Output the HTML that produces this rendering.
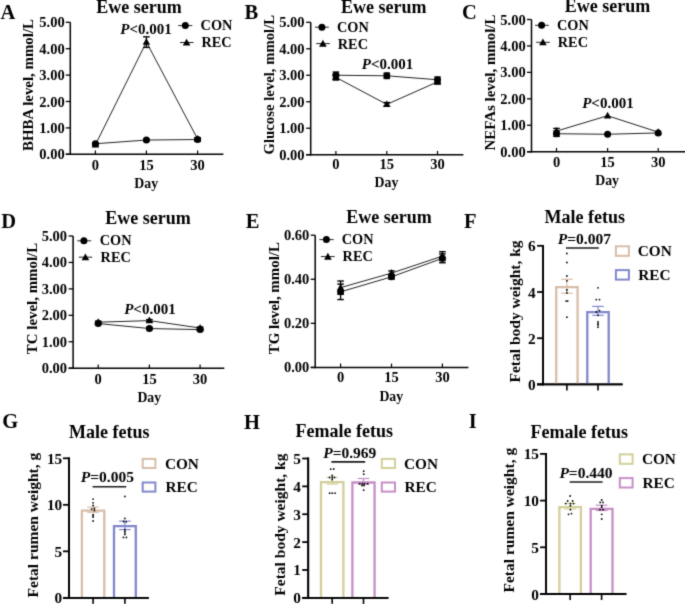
<!DOCTYPE html>
<html><head><meta charset="utf-8"><style>
html,body{margin:0;padding:0;background:#fff;width:685px;height:604px;overflow:hidden}
svg{display:block;font-family:"Liberation Serif", serif;will-change:transform}
</style></head><body>
<svg width="685" height="604" viewBox="0 0 685 604" font-family='"Liberation Serif", serif'>
<defs><filter id="bl" x="0" y="0" width="685" height="604" filterUnits="userSpaceOnUse" color-interpolation-filters="sRGB"><feConvolveMatrix order="3" kernelMatrix="0.02 0.1 0.02 0.1 0.52 0.1 0.02 0.1 0.02" edgeMode="duplicate"/></filter></defs>
<rect width="685" height="604" fill="#fff"/>
<g filter="url(#bl)">
<line x1="70.30" y1="22.30" x2="70.30" y2="155.05" stroke="#000" stroke-width="1.5" />
<line x1="65.80" y1="154.30" x2="223.40" y2="154.30" stroke="#000" stroke-width="1.5" />
<line x1="65.80" y1="154.30" x2="70.30" y2="154.30" stroke="#000" stroke-width="1.3" />
<text x="64.70" y="159.30" font-size="14.5" text-anchor="end" font-weight="bold" font-style="normal" fill="#000" >0.00</text>
<line x1="65.80" y1="127.90" x2="70.30" y2="127.90" stroke="#000" stroke-width="1.3" />
<text x="64.70" y="132.90" font-size="14.5" text-anchor="end" font-weight="bold" font-style="normal" fill="#000" >1.00</text>
<line x1="65.80" y1="101.50" x2="70.30" y2="101.50" stroke="#000" stroke-width="1.3" />
<text x="64.70" y="106.50" font-size="14.5" text-anchor="end" font-weight="bold" font-style="normal" fill="#000" >2.00</text>
<line x1="65.80" y1="75.10" x2="70.30" y2="75.10" stroke="#000" stroke-width="1.3" />
<text x="64.70" y="80.10" font-size="14.5" text-anchor="end" font-weight="bold" font-style="normal" fill="#000" >3.00</text>
<line x1="65.80" y1="48.70" x2="70.30" y2="48.70" stroke="#000" stroke-width="1.3" />
<text x="64.70" y="53.70" font-size="14.5" text-anchor="end" font-weight="bold" font-style="normal" fill="#000" >4.00</text>
<line x1="65.80" y1="22.30" x2="70.30" y2="22.30" stroke="#000" stroke-width="1.3" />
<text x="64.70" y="27.30" font-size="14.5" text-anchor="end" font-weight="bold" font-style="normal" fill="#000" >5.00</text>
<line x1="95.40" y1="150.50" x2="95.40" y2="154.30" stroke="#000" stroke-width="1.2" />
<text x="95.40" y="170.10" font-size="14.5" text-anchor="middle" font-weight="bold" font-style="normal" fill="#000" >0</text>
<line x1="146.40" y1="150.50" x2="146.40" y2="154.30" stroke="#000" stroke-width="1.2" />
<text x="146.40" y="170.10" font-size="14.5" text-anchor="middle" font-weight="bold" font-style="normal" fill="#000" >15</text>
<line x1="197.60" y1="150.50" x2="197.60" y2="154.30" stroke="#000" stroke-width="1.2" />
<text x="197.60" y="170.10" font-size="14.5" text-anchor="middle" font-weight="bold" font-style="normal" fill="#000" >30</text>
<text x="146.20" y="188.30" font-size="13.8" text-anchor="middle" font-weight="bold" font-style="normal" fill="#000" >Day</text>
<text x="0" y="0" font-size="14.9" text-anchor="middle" font-weight="bold" transform="translate(33.30,85.00) rotate(-90)">BHBA level, mmol/L</text>
<text x="139.10" y="12.80" font-size="18" text-anchor="middle" font-weight="bold" font-style="normal" fill="#000" >Ewe serum</text>
<text x="0.60" y="18.80" font-size="20.5" text-anchor="start" font-weight="bold" font-style="normal" fill="#000" >A</text>
<line x1="178.20" y1="25.60" x2="192.30" y2="25.60" stroke="#222" stroke-width="1.0" />
<circle cx="185.30" cy="25.60" r="3.5" fill="#000"/>
<text x="200.60" y="29.90" font-size="14.3" text-anchor="start" font-weight="bold" font-style="normal" fill="#000" >CON</text>
<line x1="180.00" y1="42.50" x2="193.50" y2="42.50" stroke="#222" stroke-width="1.0" />
<polygon points="186.60,38.70 182.80,45.54 190.40,45.54" fill="#000"/>
<text x="201.40" y="47.00" font-size="14.3" text-anchor="start" font-weight="bold" font-style="normal" fill="#000" >REC</text>
<text x="120.30" y="33.80" font-size="15" font-weight="bold"><tspan font-style="italic">P</tspan>&lt;0.001</text>
<polyline points="95.40,143.74 146.40,140.04 197.60,139.52" fill="none" stroke="#222" stroke-width="1"/>
<polyline points="95.40,144.80 146.40,42.10 197.60,138.99" fill="none" stroke="#222" stroke-width="1"/>
<line x1="95.40" y1="142.95" x2="95.40" y2="144.53" stroke="#000" stroke-width="1.3" />
<line x1="92.10" y1="142.95" x2="98.70" y2="142.95" stroke="#000" stroke-width="1.4" />
<line x1="92.10" y1="144.53" x2="98.70" y2="144.53" stroke="#000" stroke-width="1.4" />
<circle cx="95.40" cy="143.74" r="3.5" fill="#000"/>
<line x1="146.40" y1="139.25" x2="146.40" y2="140.84" stroke="#000" stroke-width="1.3" />
<line x1="143.10" y1="139.25" x2="149.70" y2="139.25" stroke="#000" stroke-width="1.4" />
<line x1="143.10" y1="140.84" x2="149.70" y2="140.84" stroke="#000" stroke-width="1.4" />
<circle cx="146.40" cy="140.04" r="3.5" fill="#000"/>
<line x1="197.60" y1="138.46" x2="197.60" y2="140.57" stroke="#000" stroke-width="1.3" />
<line x1="194.30" y1="138.46" x2="200.90" y2="138.46" stroke="#000" stroke-width="1.4" />
<line x1="194.30" y1="140.57" x2="200.90" y2="140.57" stroke="#000" stroke-width="1.4" />
<circle cx="197.60" cy="139.52" r="3.5" fill="#000"/>
<line x1="95.40" y1="143.74" x2="95.40" y2="145.85" stroke="#000" stroke-width="1.3" />
<line x1="92.10" y1="143.74" x2="98.70" y2="143.74" stroke="#000" stroke-width="1.4" />
<line x1="92.10" y1="145.85" x2="98.70" y2="145.85" stroke="#000" stroke-width="1.4" />
<polygon points="95.40,140.80 91.70,147.46 99.10,147.46" fill="#000"/>
<line x1="146.40" y1="36.82" x2="146.40" y2="47.38" stroke="#000" stroke-width="1.3" />
<line x1="143.10" y1="36.82" x2="149.70" y2="36.82" stroke="#000" stroke-width="1.4" />
<line x1="143.10" y1="47.38" x2="149.70" y2="47.38" stroke="#000" stroke-width="1.4" />
<polygon points="146.40,38.10 142.70,44.76 150.10,44.76" fill="#000"/>
<line x1="197.60" y1="137.67" x2="197.60" y2="140.31" stroke="#000" stroke-width="1.3" />
<line x1="194.30" y1="137.67" x2="200.90" y2="137.67" stroke="#000" stroke-width="1.4" />
<line x1="194.30" y1="140.31" x2="200.90" y2="140.31" stroke="#000" stroke-width="1.4" />
<polygon points="197.60,134.99 193.90,141.65 201.30,141.65" fill="#000"/>
<line x1="310.70" y1="22.30" x2="310.70" y2="155.45" stroke="#000" stroke-width="1.5" />
<line x1="306.20" y1="154.70" x2="463.40" y2="154.70" stroke="#000" stroke-width="1.5" />
<line x1="306.20" y1="154.70" x2="310.70" y2="154.70" stroke="#000" stroke-width="1.3" />
<text x="304.60" y="159.70" font-size="14.5" text-anchor="end" font-weight="bold" font-style="normal" fill="#000" >0.00</text>
<line x1="306.20" y1="128.22" x2="310.70" y2="128.22" stroke="#000" stroke-width="1.3" />
<text x="304.60" y="133.22" font-size="14.5" text-anchor="end" font-weight="bold" font-style="normal" fill="#000" >1.00</text>
<line x1="306.20" y1="101.74" x2="310.70" y2="101.74" stroke="#000" stroke-width="1.3" />
<text x="304.60" y="106.74" font-size="14.5" text-anchor="end" font-weight="bold" font-style="normal" fill="#000" >2.00</text>
<line x1="306.20" y1="75.26" x2="310.70" y2="75.26" stroke="#000" stroke-width="1.3" />
<text x="304.60" y="80.26" font-size="14.5" text-anchor="end" font-weight="bold" font-style="normal" fill="#000" >3.00</text>
<line x1="306.20" y1="48.78" x2="310.70" y2="48.78" stroke="#000" stroke-width="1.3" />
<text x="304.60" y="53.78" font-size="14.5" text-anchor="end" font-weight="bold" font-style="normal" fill="#000" >4.00</text>
<line x1="306.20" y1="22.30" x2="310.70" y2="22.30" stroke="#000" stroke-width="1.3" />
<text x="304.60" y="27.30" font-size="14.5" text-anchor="end" font-weight="bold" font-style="normal" fill="#000" >5.00</text>
<line x1="335.90" y1="150.90" x2="335.90" y2="154.70" stroke="#000" stroke-width="1.2" />
<text x="335.90" y="169.10" font-size="14.5" text-anchor="middle" font-weight="bold" font-style="normal" fill="#000" >0</text>
<line x1="386.80" y1="150.90" x2="386.80" y2="154.70" stroke="#000" stroke-width="1.2" />
<text x="386.80" y="169.10" font-size="14.5" text-anchor="middle" font-weight="bold" font-style="normal" fill="#000" >15</text>
<line x1="437.50" y1="150.90" x2="437.50" y2="154.70" stroke="#000" stroke-width="1.2" />
<text x="437.50" y="169.10" font-size="14.5" text-anchor="middle" font-weight="bold" font-style="normal" fill="#000" >30</text>
<text x="386.50" y="187.10" font-size="13.8" text-anchor="middle" font-weight="bold" font-style="normal" fill="#000" >Day</text>
<text x="0" y="0" font-size="14.75" text-anchor="middle" font-weight="bold" transform="translate(273.90,84.70) rotate(-90)">Glucose level, mmol/L</text>
<text x="383.70" y="12.80" font-size="18" text-anchor="middle" font-weight="bold" font-style="normal" fill="#000" >Ewe serum</text>
<text x="244.60" y="18.80" font-size="20.5" text-anchor="start" font-weight="bold" font-style="normal" fill="#000" >B</text>
<line x1="315.00" y1="27.20" x2="328.80" y2="27.20" stroke="#222" stroke-width="1.0" />
<circle cx="321.90" cy="27.20" r="3.5" fill="#000"/>
<text x="337.00" y="31.70" font-size="14.3" text-anchor="start" font-weight="bold" font-style="normal" fill="#000" >CON</text>
<line x1="316.20" y1="43.60" x2="329.80" y2="43.60" stroke="#222" stroke-width="1.0" />
<polygon points="322.90,39.80 319.10,46.64 326.70,46.64" fill="#000"/>
<text x="337.80" y="49.10" font-size="14.3" text-anchor="start" font-weight="bold" font-style="normal" fill="#000" >REC</text>
<text x="361.80" y="68.70" font-size="15" font-weight="bold"><tspan font-style="italic">P</tspan>&lt;0.001</text>
<polyline points="335.90,75.26 386.80,75.79 437.50,79.76" fill="none" stroke="#222" stroke-width="1"/>
<polyline points="335.90,77.38 386.80,104.39 437.50,81.88" fill="none" stroke="#222" stroke-width="1"/>
<line x1="335.90" y1="72.08" x2="335.90" y2="78.44" stroke="#000" stroke-width="1.3" />
<line x1="332.60" y1="72.08" x2="339.20" y2="72.08" stroke="#000" stroke-width="1.4" />
<line x1="332.60" y1="78.44" x2="339.20" y2="78.44" stroke="#000" stroke-width="1.4" />
<circle cx="335.90" cy="75.26" r="3.5" fill="#000"/>
<line x1="386.80" y1="73.14" x2="386.80" y2="78.44" stroke="#000" stroke-width="1.3" />
<line x1="383.50" y1="73.14" x2="390.10" y2="73.14" stroke="#000" stroke-width="1.4" />
<line x1="383.50" y1="78.44" x2="390.10" y2="78.44" stroke="#000" stroke-width="1.4" />
<circle cx="386.80" cy="75.79" r="3.5" fill="#000"/>
<line x1="437.50" y1="77.11" x2="437.50" y2="82.41" stroke="#000" stroke-width="1.3" />
<line x1="434.20" y1="77.11" x2="440.80" y2="77.11" stroke="#000" stroke-width="1.4" />
<line x1="434.20" y1="82.41" x2="440.80" y2="82.41" stroke="#000" stroke-width="1.4" />
<circle cx="437.50" cy="79.76" r="3.5" fill="#000"/>
<line x1="335.90" y1="74.73" x2="335.90" y2="80.03" stroke="#000" stroke-width="1.3" />
<line x1="332.60" y1="74.73" x2="339.20" y2="74.73" stroke="#000" stroke-width="1.4" />
<line x1="332.60" y1="80.03" x2="339.20" y2="80.03" stroke="#000" stroke-width="1.4" />
<polygon points="335.90,73.38 332.20,80.04 339.60,80.04" fill="#000"/>
<line x1="386.80" y1="102.53" x2="386.80" y2="106.24" stroke="#000" stroke-width="1.3" />
<line x1="383.50" y1="102.53" x2="390.10" y2="102.53" stroke="#000" stroke-width="1.4" />
<line x1="383.50" y1="106.24" x2="390.10" y2="106.24" stroke="#000" stroke-width="1.4" />
<polygon points="386.80,100.39 383.10,107.05 390.50,107.05" fill="#000"/>
<line x1="437.50" y1="79.76" x2="437.50" y2="84.00" stroke="#000" stroke-width="1.3" />
<line x1="434.20" y1="79.76" x2="440.80" y2="79.76" stroke="#000" stroke-width="1.4" />
<line x1="434.20" y1="84.00" x2="440.80" y2="84.00" stroke="#000" stroke-width="1.4" />
<polygon points="437.50,77.88 433.80,84.54 441.20,84.54" fill="#000"/>
<line x1="531.50" y1="19.50" x2="531.50" y2="152.45" stroke="#000" stroke-width="1.5" />
<line x1="527.00" y1="151.70" x2="690.00" y2="151.70" stroke="#000" stroke-width="1.5" />
<line x1="527.00" y1="151.70" x2="531.50" y2="151.70" stroke="#000" stroke-width="1.3" />
<text x="525.70" y="156.70" font-size="14.5" text-anchor="end" font-weight="bold" font-style="normal" fill="#000" >0.00</text>
<line x1="527.00" y1="125.26" x2="531.50" y2="125.26" stroke="#000" stroke-width="1.3" />
<text x="525.70" y="130.26" font-size="14.5" text-anchor="end" font-weight="bold" font-style="normal" fill="#000" >1.00</text>
<line x1="527.00" y1="98.82" x2="531.50" y2="98.82" stroke="#000" stroke-width="1.3" />
<text x="525.70" y="103.82" font-size="14.5" text-anchor="end" font-weight="bold" font-style="normal" fill="#000" >2.00</text>
<line x1="527.00" y1="72.38" x2="531.50" y2="72.38" stroke="#000" stroke-width="1.3" />
<text x="525.70" y="77.38" font-size="14.5" text-anchor="end" font-weight="bold" font-style="normal" fill="#000" >3.00</text>
<line x1="527.00" y1="45.94" x2="531.50" y2="45.94" stroke="#000" stroke-width="1.3" />
<text x="525.70" y="50.94" font-size="14.5" text-anchor="end" font-weight="bold" font-style="normal" fill="#000" >4.00</text>
<line x1="527.00" y1="19.50" x2="531.50" y2="19.50" stroke="#000" stroke-width="1.3" />
<text x="525.70" y="24.50" font-size="14.5" text-anchor="end" font-weight="bold" font-style="normal" fill="#000" >5.00</text>
<line x1="556.50" y1="147.90" x2="556.50" y2="151.70" stroke="#000" stroke-width="1.2" />
<text x="556.50" y="166.80" font-size="14.5" text-anchor="middle" font-weight="bold" font-style="normal" fill="#000" >0</text>
<line x1="607.60" y1="147.90" x2="607.60" y2="151.70" stroke="#000" stroke-width="1.2" />
<text x="607.60" y="166.80" font-size="14.5" text-anchor="middle" font-weight="bold" font-style="normal" fill="#000" >15</text>
<line x1="658.20" y1="147.90" x2="658.20" y2="151.70" stroke="#000" stroke-width="1.2" />
<text x="658.20" y="166.80" font-size="14.5" text-anchor="middle" font-weight="bold" font-style="normal" fill="#000" >30</text>
<text x="607.10" y="185.20" font-size="13.8" text-anchor="middle" font-weight="bold" font-style="normal" fill="#000" >Day</text>
<text x="0" y="0" font-size="14.9" text-anchor="middle" font-weight="bold" transform="translate(494.70,82.50) rotate(-90)">NEFAs level, mmol/L</text>
<text x="607.50" y="11.80" font-size="18" text-anchor="middle" font-weight="bold" font-style="normal" fill="#000" >Ewe serum</text>
<text x="462.00" y="18.60" font-size="20.5" text-anchor="start" font-weight="bold" font-style="normal" fill="#000" >C</text>
<line x1="535.00" y1="25.30" x2="548.80" y2="25.30" stroke="#222" stroke-width="1.0" />
<circle cx="541.60" cy="25.30" r="3.5" fill="#000"/>
<text x="557.00" y="30.30" font-size="14.3" text-anchor="start" font-weight="bold" font-style="normal" fill="#000" >CON</text>
<line x1="536.20" y1="42.30" x2="549.80" y2="42.30" stroke="#222" stroke-width="1.0" />
<polygon points="542.90,38.50 539.10,45.34 546.70,45.34" fill="#000"/>
<text x="557.80" y="47.00" font-size="14.3" text-anchor="start" font-weight="bold" font-style="normal" fill="#000" >REC</text>
<text x="582.20" y="108.10" font-size="15" font-weight="bold"><tspan font-style="italic">P</tspan>&lt;0.001</text>
<polyline points="556.50,133.72 607.60,134.25 658.20,132.93" fill="none" stroke="#222" stroke-width="1"/>
<polyline points="556.50,131.08 607.60,115.74 658.20,132.13" fill="none" stroke="#222" stroke-width="1"/>
<line x1="556.50" y1="131.08" x2="556.50" y2="136.36" stroke="#000" stroke-width="1.3" />
<line x1="553.20" y1="131.08" x2="559.80" y2="131.08" stroke="#000" stroke-width="1.4" />
<line x1="553.20" y1="136.36" x2="559.80" y2="136.36" stroke="#000" stroke-width="1.4" />
<circle cx="556.50" cy="133.72" r="3.5" fill="#000"/>
<circle cx="607.60" cy="134.25" r="3.5" fill="#000"/>
<circle cx="658.20" cy="132.93" r="3.5" fill="#000"/>
<line x1="556.50" y1="128.43" x2="556.50" y2="133.72" stroke="#000" stroke-width="1.3" />
<line x1="553.20" y1="128.43" x2="559.80" y2="128.43" stroke="#000" stroke-width="1.4" />
<line x1="553.20" y1="133.72" x2="559.80" y2="133.72" stroke="#000" stroke-width="1.4" />
<polygon points="556.50,127.08 552.80,133.74 560.20,133.74" fill="#000"/>
<polygon points="607.60,111.75 603.90,118.41 611.30,118.41" fill="#000"/>
<polygon points="658.20,128.14 654.50,134.80 661.90,134.80" fill="#000"/>
<line x1="73.10" y1="236.00" x2="73.10" y2="368.95" stroke="#000" stroke-width="1.5" />
<line x1="68.60" y1="368.20" x2="224.30" y2="368.20" stroke="#000" stroke-width="1.5" />
<line x1="68.60" y1="368.20" x2="73.10" y2="368.20" stroke="#000" stroke-width="1.3" />
<text x="67.10" y="373.20" font-size="14.5" text-anchor="end" font-weight="bold" font-style="normal" fill="#000" >0.00</text>
<line x1="68.60" y1="341.76" x2="73.10" y2="341.76" stroke="#000" stroke-width="1.3" />
<text x="67.10" y="346.76" font-size="14.5" text-anchor="end" font-weight="bold" font-style="normal" fill="#000" >1.00</text>
<line x1="68.60" y1="315.32" x2="73.10" y2="315.32" stroke="#000" stroke-width="1.3" />
<text x="67.10" y="320.32" font-size="14.5" text-anchor="end" font-weight="bold" font-style="normal" fill="#000" >2.00</text>
<line x1="68.60" y1="288.88" x2="73.10" y2="288.88" stroke="#000" stroke-width="1.3" />
<text x="67.10" y="293.88" font-size="14.5" text-anchor="end" font-weight="bold" font-style="normal" fill="#000" >3.00</text>
<line x1="68.60" y1="262.44" x2="73.10" y2="262.44" stroke="#000" stroke-width="1.3" />
<text x="67.10" y="267.44" font-size="14.5" text-anchor="end" font-weight="bold" font-style="normal" fill="#000" >4.00</text>
<line x1="68.60" y1="236.00" x2="73.10" y2="236.00" stroke="#000" stroke-width="1.3" />
<text x="67.10" y="241.00" font-size="14.5" text-anchor="end" font-weight="bold" font-style="normal" fill="#000" >5.00</text>
<line x1="98.20" y1="364.40" x2="98.20" y2="368.20" stroke="#000" stroke-width="1.2" />
<text x="98.20" y="383.80" font-size="14.5" text-anchor="middle" font-weight="bold" font-style="normal" fill="#000" >0</text>
<line x1="149.40" y1="364.40" x2="149.40" y2="368.20" stroke="#000" stroke-width="1.2" />
<text x="149.40" y="383.80" font-size="14.5" text-anchor="middle" font-weight="bold" font-style="normal" fill="#000" >15</text>
<line x1="200.10" y1="364.40" x2="200.10" y2="368.20" stroke="#000" stroke-width="1.2" />
<text x="200.10" y="383.80" font-size="14.5" text-anchor="middle" font-weight="bold" font-style="normal" fill="#000" >30</text>
<text x="149.30" y="401.70" font-size="13.8" text-anchor="middle" font-weight="bold" font-style="normal" fill="#000" >Day</text>
<text x="0" y="0" font-size="14.9" text-anchor="middle" font-weight="bold" transform="translate(36.50,298.50) rotate(-90)">TC level, mmol/L</text>
<text x="148.00" y="224.30" font-size="18" text-anchor="middle" font-weight="bold" font-style="normal" fill="#000" >Ewe serum</text>
<text x="1.20" y="227.60" font-size="20.5" text-anchor="start" font-weight="bold" font-style="normal" fill="#000" >D</text>
<line x1="77.30" y1="240.80" x2="91.20" y2="240.80" stroke="#222" stroke-width="1.0" />
<circle cx="83.90" cy="240.80" r="3.5" fill="#000"/>
<text x="99.80" y="244.90" font-size="14.3" text-anchor="start" font-weight="bold" font-style="normal" fill="#000" >CON</text>
<line x1="78.80" y1="257.20" x2="92.20" y2="257.20" stroke="#222" stroke-width="1.0" />
<polygon points="85.40,253.40 81.60,260.24 89.20,260.24" fill="#000"/>
<text x="100.60" y="261.50" font-size="14.3" text-anchor="start" font-weight="bold" font-style="normal" fill="#000" >REC</text>
<text x="124.20" y="314.20" font-size="15" font-weight="bold"><tspan font-style="italic">P</tspan>&lt;0.001</text>
<polyline points="98.20,323.52 149.40,328.54 200.10,329.60" fill="none" stroke="#222" stroke-width="1"/>
<polyline points="98.20,322.19 149.40,320.61 200.10,328.01" fill="none" stroke="#222" stroke-width="1"/>
<line x1="98.20" y1="322.46" x2="98.20" y2="324.57" stroke="#000" stroke-width="1.3" />
<line x1="94.90" y1="322.46" x2="101.50" y2="322.46" stroke="#000" stroke-width="1.4" />
<line x1="94.90" y1="324.57" x2="101.50" y2="324.57" stroke="#000" stroke-width="1.4" />
<circle cx="98.20" cy="323.52" r="3.5" fill="#000"/>
<line x1="149.40" y1="327.48" x2="149.40" y2="329.60" stroke="#000" stroke-width="1.3" />
<line x1="146.10" y1="327.48" x2="152.70" y2="327.48" stroke="#000" stroke-width="1.4" />
<line x1="146.10" y1="329.60" x2="152.70" y2="329.60" stroke="#000" stroke-width="1.4" />
<circle cx="149.40" cy="328.54" r="3.5" fill="#000"/>
<line x1="200.10" y1="328.54" x2="200.10" y2="330.66" stroke="#000" stroke-width="1.3" />
<line x1="196.80" y1="328.54" x2="203.40" y2="328.54" stroke="#000" stroke-width="1.4" />
<line x1="196.80" y1="330.66" x2="203.40" y2="330.66" stroke="#000" stroke-width="1.4" />
<circle cx="200.10" cy="329.60" r="3.5" fill="#000"/>
<line x1="98.20" y1="321.14" x2="98.20" y2="323.25" stroke="#000" stroke-width="1.3" />
<line x1="94.90" y1="321.14" x2="101.50" y2="321.14" stroke="#000" stroke-width="1.4" />
<line x1="94.90" y1="323.25" x2="101.50" y2="323.25" stroke="#000" stroke-width="1.4" />
<polygon points="98.20,318.20 94.50,324.86 101.90,324.86" fill="#000"/>
<line x1="149.40" y1="319.55" x2="149.40" y2="321.67" stroke="#000" stroke-width="1.3" />
<line x1="146.10" y1="319.55" x2="152.70" y2="319.55" stroke="#000" stroke-width="1.4" />
<line x1="146.10" y1="321.67" x2="152.70" y2="321.67" stroke="#000" stroke-width="1.4" />
<polygon points="149.40,316.61 145.70,323.27 153.10,323.27" fill="#000"/>
<line x1="200.10" y1="326.95" x2="200.10" y2="329.07" stroke="#000" stroke-width="1.3" />
<line x1="196.80" y1="326.95" x2="203.40" y2="326.95" stroke="#000" stroke-width="1.4" />
<line x1="196.80" y1="329.07" x2="203.40" y2="329.07" stroke="#000" stroke-width="1.4" />
<polygon points="200.10,324.02 196.40,330.68 203.80,330.68" fill="#000"/>
<line x1="315.20" y1="235.20" x2="315.20" y2="368.15" stroke="#000" stroke-width="1.5" />
<line x1="310.70" y1="367.40" x2="468.40" y2="367.40" stroke="#000" stroke-width="1.5" />
<line x1="310.70" y1="367.40" x2="315.20" y2="367.40" stroke="#000" stroke-width="1.3" />
<text x="309.30" y="372.40" font-size="14.5" text-anchor="end" font-weight="bold" font-style="normal" fill="#000" >0.00</text>
<line x1="310.70" y1="323.33" x2="315.20" y2="323.33" stroke="#000" stroke-width="1.3" />
<text x="309.30" y="328.33" font-size="14.5" text-anchor="end" font-weight="bold" font-style="normal" fill="#000" >0.20</text>
<line x1="310.70" y1="279.27" x2="315.20" y2="279.27" stroke="#000" stroke-width="1.3" />
<text x="309.30" y="284.27" font-size="14.5" text-anchor="end" font-weight="bold" font-style="normal" fill="#000" >0.40</text>
<line x1="310.70" y1="235.20" x2="315.20" y2="235.20" stroke="#000" stroke-width="1.3" />
<text x="309.30" y="240.20" font-size="14.5" text-anchor="end" font-weight="bold" font-style="normal" fill="#000" >0.60</text>
<line x1="340.60" y1="363.60" x2="340.60" y2="367.40" stroke="#000" stroke-width="1.2" />
<text x="340.60" y="382.40" font-size="14.5" text-anchor="middle" font-weight="bold" font-style="normal" fill="#000" >0</text>
<line x1="391.50" y1="363.60" x2="391.50" y2="367.40" stroke="#000" stroke-width="1.2" />
<text x="391.50" y="382.40" font-size="14.5" text-anchor="middle" font-weight="bold" font-style="normal" fill="#000" >15</text>
<line x1="442.40" y1="363.60" x2="442.40" y2="367.40" stroke="#000" stroke-width="1.2" />
<text x="442.40" y="382.40" font-size="14.5" text-anchor="middle" font-weight="bold" font-style="normal" fill="#000" >30</text>
<text x="391.30" y="400.50" font-size="13.8" text-anchor="middle" font-weight="bold" font-style="normal" fill="#000" >Day</text>
<text x="0" y="0" font-size="14.9" text-anchor="middle" font-weight="bold" transform="translate(278.90,298.20) rotate(-90)">TG level, mmol/L</text>
<text x="388.90" y="222.80" font-size="18" text-anchor="middle" font-weight="bold" font-style="normal" fill="#000" >Ewe serum</text>
<text x="245.80" y="227.60" font-size="20.5" text-anchor="start" font-weight="bold" font-style="normal" fill="#000" >E</text>
<line x1="319.40" y1="239.60" x2="333.70" y2="239.60" stroke="#222" stroke-width="1.0" />
<circle cx="326.40" cy="239.60" r="3.5" fill="#000"/>
<text x="341.80" y="244.00" font-size="14.3" text-anchor="start" font-weight="bold" font-style="normal" fill="#000" >CON</text>
<line x1="320.90" y1="256.60" x2="334.70" y2="256.60" stroke="#222" stroke-width="1.0" />
<polygon points="327.90,252.80 324.10,259.64 331.70,259.64" fill="#000"/>
<text x="342.60" y="260.80" font-size="14.3" text-anchor="start" font-weight="bold" font-style="normal" fill="#000" >REC</text>
<text x="-100.00" y="-100.00" font-size="15" font-weight="bold"><tspan font-style="italic">P</tspan>&lt;0.001</text>
<polyline points="340.60,291.83 391.50,276.84 442.40,258.33" fill="none" stroke="#222" stroke-width="1"/>
<polyline points="340.60,287.64 391.50,273.10 442.40,256.13" fill="none" stroke="#222" stroke-width="1"/>
<line x1="340.60" y1="284.11" x2="340.60" y2="299.54" stroke="#000" stroke-width="1.3" />
<line x1="337.30" y1="284.11" x2="343.90" y2="284.11" stroke="#000" stroke-width="1.4" />
<line x1="337.30" y1="299.54" x2="343.90" y2="299.54" stroke="#000" stroke-width="1.4" />
<circle cx="340.60" cy="291.83" r="3.5" fill="#000"/>
<line x1="391.50" y1="274.64" x2="391.50" y2="279.05" stroke="#000" stroke-width="1.3" />
<line x1="388.20" y1="274.64" x2="394.80" y2="274.64" stroke="#000" stroke-width="1.4" />
<line x1="388.20" y1="279.05" x2="394.80" y2="279.05" stroke="#000" stroke-width="1.4" />
<circle cx="391.50" cy="276.84" r="3.5" fill="#000"/>
<line x1="442.40" y1="253.93" x2="442.40" y2="262.74" stroke="#000" stroke-width="1.3" />
<line x1="439.10" y1="253.93" x2="445.70" y2="253.93" stroke="#000" stroke-width="1.4" />
<line x1="439.10" y1="262.74" x2="445.70" y2="262.74" stroke="#000" stroke-width="1.4" />
<circle cx="442.40" cy="258.33" r="3.5" fill="#000"/>
<line x1="340.60" y1="281.03" x2="340.60" y2="294.25" stroke="#000" stroke-width="1.3" />
<line x1="337.30" y1="281.03" x2="343.90" y2="281.03" stroke="#000" stroke-width="1.4" />
<line x1="337.30" y1="294.25" x2="343.90" y2="294.25" stroke="#000" stroke-width="1.4" />
<polygon points="340.60,283.64 336.90,290.30 344.30,290.30" fill="#000"/>
<line x1="391.50" y1="270.89" x2="391.50" y2="275.30" stroke="#000" stroke-width="1.3" />
<line x1="388.20" y1="270.89" x2="394.80" y2="270.89" stroke="#000" stroke-width="1.4" />
<line x1="388.20" y1="275.30" x2="394.80" y2="275.30" stroke="#000" stroke-width="1.4" />
<polygon points="391.50,269.10 387.80,275.76 395.20,275.76" fill="#000"/>
<line x1="442.40" y1="251.72" x2="442.40" y2="260.54" stroke="#000" stroke-width="1.3" />
<line x1="439.10" y1="251.72" x2="445.70" y2="251.72" stroke="#000" stroke-width="1.4" />
<line x1="439.10" y1="260.54" x2="445.70" y2="260.54" stroke="#000" stroke-width="1.4" />
<polygon points="442.40,252.14 438.70,258.80 446.10,258.80" fill="#000"/>
<line x1="543.10" y1="244.90" x2="543.10" y2="385.30" stroke="#000" stroke-width="1.8" />
<line x1="537.10" y1="384.40" x2="622.60" y2="384.40" stroke="#000" stroke-width="1.8" />
<line x1="537.10" y1="384.40" x2="543.10" y2="384.40" stroke="#000" stroke-width="1.8" />
<text x="535.60" y="389.90" font-size="15.3" text-anchor="end" font-weight="bold" font-style="normal" fill="#000" >0</text>
<line x1="537.10" y1="338.20" x2="543.10" y2="338.20" stroke="#000" stroke-width="1.8" />
<text x="535.60" y="343.70" font-size="15.3" text-anchor="end" font-weight="bold" font-style="normal" fill="#000" >2</text>
<line x1="537.10" y1="292.00" x2="543.10" y2="292.00" stroke="#000" stroke-width="1.8" />
<text x="535.60" y="297.50" font-size="15.3" text-anchor="end" font-weight="bold" font-style="normal" fill="#000" >4</text>
<line x1="537.10" y1="245.80" x2="543.10" y2="245.80" stroke="#000" stroke-width="1.8" />
<text x="535.60" y="251.30" font-size="15.3" text-anchor="end" font-weight="bold" font-style="normal" fill="#000" >6</text>
<path d="M556.20,384.40 V287.10 H577.60 V384.40" fill="none" stroke="#d8bda8" stroke-width="2.3"/>
<line x1="566.90" y1="384.40" x2="566.90" y2="390.40" stroke="#000" stroke-width="1.6" />
<line x1="566.90" y1="279.30" x2="566.90" y2="293.20" stroke="#d8bda8" stroke-width="1.2" />
<line x1="561.10" y1="279.30" x2="572.70" y2="279.30" stroke="#d8bda8" stroke-width="1.2" />
<line x1="561.10" y1="293.20" x2="572.70" y2="293.20" stroke="#d8bda8" stroke-width="1.2" />
<circle cx="566.90" cy="253.50" r="0.9" fill="#000"/>
<circle cx="566.90" cy="262.50" r="0.9" fill="#000"/>
<circle cx="566.90" cy="276.00" r="0.9" fill="#000"/>
<circle cx="566.90" cy="280.80" r="0.9" fill="#000"/>
<circle cx="566.90" cy="290.00" r="0.9" fill="#000"/>
<circle cx="566.90" cy="292.90" r="0.9" fill="#000"/>
<circle cx="566.10" cy="301.10" r="0.9" fill="#000"/>
<circle cx="567.70" cy="301.10" r="0.9" fill="#000"/>
<circle cx="566.90" cy="317.20" r="0.9" fill="#000"/>
<path d="M587.30,384.40 V312.20 H608.70 V384.40" fill="none" stroke="#8187cc" stroke-width="2.3"/>
<line x1="598.00" y1="384.40" x2="598.00" y2="390.40" stroke="#000" stroke-width="1.6" />
<line x1="598.00" y1="306.40" x2="598.00" y2="315.30" stroke="#8187cc" stroke-width="1.2" />
<line x1="592.20" y1="306.40" x2="603.80" y2="306.40" stroke="#8187cc" stroke-width="1.2" />
<line x1="592.20" y1="315.30" x2="603.80" y2="315.30" stroke="#8187cc" stroke-width="1.2" />
<circle cx="598.00" cy="287.80" r="0.9" fill="#000"/>
<circle cx="596.30" cy="299.60" r="0.9" fill="#000"/>
<circle cx="599.50" cy="299.60" r="0.9" fill="#000"/>
<circle cx="596.40" cy="312.00" r="0.9" fill="#000"/>
<circle cx="599.50" cy="310.60" r="0.9" fill="#000"/>
<circle cx="598.00" cy="315.30" r="0.9" fill="#000"/>
<circle cx="598.00" cy="321.80" r="0.9" fill="#000"/>
<circle cx="598.00" cy="323.50" r="0.9" fill="#000"/>
<circle cx="598.00" cy="325.00" r="0.9" fill="#000"/>
<circle cx="598.00" cy="327.20" r="0.9" fill="#000"/>
<line x1="543.10" y1="244.90" x2="543.10" y2="385.30" stroke="#000" stroke-width="1.8" />
<line x1="537.10" y1="384.40" x2="622.60" y2="384.40" stroke="#000" stroke-width="1.8" />
<rect x="615.90" y="246.30" width="13.00" height="9.50" fill="none" stroke="#d8bda8" stroke-width="2"/>
<rect x="615.90" y="270.10" width="13.00" height="9.50" fill="none" stroke="#8187cc" stroke-width="2"/>
<text x="637.80" y="256.40" font-size="15.3" text-anchor="start" font-weight="bold" font-style="normal" fill="#000" >CON</text>
<text x="638.30" y="279.70" font-size="15.3" text-anchor="start" font-weight="bold" font-style="normal" fill="#000" >REC</text>
<text x="584.80" y="223.40" font-size="18" text-anchor="middle" font-weight="bold" font-style="normal" fill="#000" >Male fetus</text>
<text x="464.00" y="227.60" font-size="20.5" text-anchor="start" font-weight="bold" font-style="normal" fill="#000" >F</text>
<text x="0" y="0" font-size="15.5" text-anchor="middle" font-weight="bold" transform="translate(520.10,311.50) rotate(-90)">Fetal body weight, kg</text>
<text x="557.80" y="243.80" font-size="15.5" font-weight="bold"><tspan font-style="italic">P</tspan>=0.007</text>
<line x1="565.90" y1="248.00" x2="598.80" y2="248.00" stroke="#1a1a1a" stroke-width="1.6" />
<line x1="69.00" y1="457.40" x2="69.00" y2="598.75" stroke="#000" stroke-width="1.8" />
<line x1="63.00" y1="597.85" x2="148.80" y2="597.85" stroke="#000" stroke-width="1.8" />
<line x1="63.00" y1="597.85" x2="69.00" y2="597.85" stroke="#000" stroke-width="1.8" />
<text x="62.20" y="603.35" font-size="15.3" text-anchor="end" font-weight="bold" font-style="normal" fill="#000" >0</text>
<line x1="63.00" y1="551.33" x2="69.00" y2="551.33" stroke="#000" stroke-width="1.8" />
<text x="62.20" y="556.83" font-size="15.3" text-anchor="end" font-weight="bold" font-style="normal" fill="#000" >5</text>
<line x1="63.00" y1="504.82" x2="69.00" y2="504.82" stroke="#000" stroke-width="1.8" />
<text x="62.20" y="510.32" font-size="15.3" text-anchor="end" font-weight="bold" font-style="normal" fill="#000" >10</text>
<line x1="63.00" y1="458.30" x2="69.00" y2="458.30" stroke="#000" stroke-width="1.8" />
<text x="62.20" y="463.80" font-size="15.3" text-anchor="end" font-weight="bold" font-style="normal" fill="#000" >15</text>
<path d="M81.90,597.85 V510.60 H104.30 V597.85" fill="none" stroke="#d8bda8" stroke-width="2.3"/>
<line x1="93.10" y1="597.85" x2="93.10" y2="603.85" stroke="#000" stroke-width="1.6" />
<line x1="93.10" y1="507.10" x2="93.10" y2="512.30" stroke="#d8bda8" stroke-width="1.2" />
<line x1="87.30" y1="507.10" x2="98.90" y2="507.10" stroke="#d8bda8" stroke-width="1.2" />
<line x1="87.30" y1="512.30" x2="98.90" y2="512.30" stroke="#d8bda8" stroke-width="1.2" />
<circle cx="93.10" cy="499.10" r="0.9" fill="#000"/>
<circle cx="93.10" cy="502.80" r="0.9" fill="#000"/>
<circle cx="93.10" cy="505.50" r="0.9" fill="#000"/>
<circle cx="91.60" cy="509.10" r="0.9" fill="#000"/>
<circle cx="94.40" cy="508.50" r="0.9" fill="#000"/>
<circle cx="94.40" cy="510.50" r="0.9" fill="#000"/>
<circle cx="93.10" cy="514.60" r="0.9" fill="#000"/>
<circle cx="93.10" cy="515.80" r="0.9" fill="#000"/>
<circle cx="93.10" cy="517.00" r="0.9" fill="#000"/>
<circle cx="93.10" cy="521.00" r="0.9" fill="#000"/>
<path d="M114.00,597.85 V526.10 H135.80 V597.85" fill="none" stroke="#8187cc" stroke-width="2.3"/>
<line x1="124.90" y1="597.85" x2="124.90" y2="603.85" stroke="#000" stroke-width="1.6" />
<line x1="124.90" y1="521.10" x2="124.90" y2="529.60" stroke="#8187cc" stroke-width="1.2" />
<line x1="119.10" y1="521.10" x2="130.70" y2="521.10" stroke="#8187cc" stroke-width="1.2" />
<line x1="119.10" y1="529.60" x2="130.70" y2="529.60" stroke="#8187cc" stroke-width="1.2" />
<circle cx="124.90" cy="496.40" r="0.9" fill="#000"/>
<circle cx="124.90" cy="518.40" r="0.9" fill="#000"/>
<circle cx="123.60" cy="521.50" r="0.9" fill="#000"/>
<circle cx="126.20" cy="521.80" r="0.9" fill="#000"/>
<circle cx="124.90" cy="529.60" r="0.9" fill="#000"/>
<circle cx="124.90" cy="531.20" r="0.9" fill="#000"/>
<circle cx="124.90" cy="532.80" r="0.9" fill="#000"/>
<circle cx="124.90" cy="534.40" r="0.9" fill="#000"/>
<circle cx="123.40" cy="537.40" r="0.9" fill="#000"/>
<circle cx="126.40" cy="537.40" r="0.9" fill="#000"/>
<line x1="69.00" y1="457.40" x2="69.00" y2="598.75" stroke="#000" stroke-width="1.8" />
<line x1="63.00" y1="597.85" x2="148.80" y2="597.85" stroke="#000" stroke-width="1.8" />
<rect x="142.70" y="458.90" width="12.70" height="9.10" fill="none" stroke="#d8bda8" stroke-width="2"/>
<rect x="142.70" y="482.50" width="12.70" height="9.10" fill="none" stroke="#8187cc" stroke-width="2"/>
<text x="164.90" y="468.70" font-size="15.3" text-anchor="start" font-weight="bold" font-style="normal" fill="#000" >CON</text>
<text x="165.40" y="492.00" font-size="15.3" text-anchor="start" font-weight="bold" font-style="normal" fill="#000" >REC</text>
<text x="109.30" y="437.60" font-size="18" text-anchor="middle" font-weight="bold" font-style="normal" fill="#000" >Male fetus</text>
<text x="2.20" y="428.00" font-size="20.5" text-anchor="start" font-weight="bold" font-style="normal" fill="#000" >G</text>
<text x="0" y="0" font-size="15.5" text-anchor="middle" font-weight="bold" transform="translate(37.50,525.10) rotate(-90)">Fetal rumen weight, g</text>
<text x="80.80" y="482.40" font-size="15.5" font-weight="bold"><tspan font-style="italic">P</tspan>=0.005</text>
<line x1="92.60" y1="486.80" x2="126.20" y2="486.80" stroke="#1a1a1a" stroke-width="1.6" />
<line x1="308.20" y1="457.60" x2="308.20" y2="598.75" stroke="#000" stroke-width="1.8" />
<line x1="302.20" y1="597.85" x2="388.40" y2="597.85" stroke="#000" stroke-width="1.8" />
<line x1="302.20" y1="597.85" x2="308.20" y2="597.85" stroke="#000" stroke-width="1.8" />
<text x="300.80" y="603.35" font-size="15.3" text-anchor="end" font-weight="bold" font-style="normal" fill="#000" >0</text>
<line x1="302.20" y1="569.98" x2="308.20" y2="569.98" stroke="#000" stroke-width="1.8" />
<text x="300.80" y="575.48" font-size="15.3" text-anchor="end" font-weight="bold" font-style="normal" fill="#000" >1</text>
<line x1="302.20" y1="542.11" x2="308.20" y2="542.11" stroke="#000" stroke-width="1.8" />
<text x="300.80" y="547.61" font-size="15.3" text-anchor="end" font-weight="bold" font-style="normal" fill="#000" >2</text>
<line x1="302.20" y1="514.24" x2="308.20" y2="514.24" stroke="#000" stroke-width="1.8" />
<text x="300.80" y="519.74" font-size="15.3" text-anchor="end" font-weight="bold" font-style="normal" fill="#000" >3</text>
<line x1="302.20" y1="486.37" x2="308.20" y2="486.37" stroke="#000" stroke-width="1.8" />
<text x="300.80" y="491.87" font-size="15.3" text-anchor="end" font-weight="bold" font-style="normal" fill="#000" >4</text>
<line x1="302.20" y1="458.50" x2="308.20" y2="458.50" stroke="#000" stroke-width="1.8" />
<text x="300.80" y="464.00" font-size="15.3" text-anchor="end" font-weight="bold" font-style="normal" fill="#000" >5</text>
<path d="M321.00,597.85 V482.20 H343.40 V597.85" fill="none" stroke="#d2cf9a" stroke-width="2.3"/>
<line x1="332.20" y1="597.85" x2="332.20" y2="603.85" stroke="#000" stroke-width="1.6" />
<line x1="332.20" y1="477.30" x2="332.20" y2="484.10" stroke="#d2cf9a" stroke-width="1.2" />
<line x1="326.40" y1="477.30" x2="338.00" y2="477.30" stroke="#d2cf9a" stroke-width="1.2" />
<line x1="326.40" y1="484.10" x2="338.00" y2="484.10" stroke="#d2cf9a" stroke-width="1.2" />
<circle cx="330.70" cy="469.20" r="0.9" fill="#000"/>
<circle cx="333.70" cy="469.00" r="0.9" fill="#000"/>
<circle cx="329.50" cy="477.50" r="0.9" fill="#000"/>
<circle cx="332.20" cy="477.50" r="0.9" fill="#000"/>
<circle cx="334.50" cy="477.50" r="0.9" fill="#000"/>
<circle cx="332.20" cy="475.50" r="0.9" fill="#000"/>
<circle cx="332.20" cy="479.50" r="0.9" fill="#000"/>
<circle cx="329.60" cy="493.20" r="0.9" fill="#000"/>
<circle cx="332.20" cy="493.20" r="0.9" fill="#000"/>
<circle cx="335.00" cy="493.20" r="0.9" fill="#000"/>
<path d="M352.40,597.85 V482.50 H374.60 V597.85" fill="none" stroke="#c68ec6" stroke-width="2.3"/>
<line x1="363.50" y1="597.85" x2="363.50" y2="603.85" stroke="#000" stroke-width="1.6" />
<line x1="363.50" y1="478.50" x2="363.50" y2="484.30" stroke="#c68ec6" stroke-width="1.2" />
<line x1="357.70" y1="478.50" x2="369.30" y2="478.50" stroke="#c68ec6" stroke-width="1.2" />
<line x1="357.70" y1="484.30" x2="369.30" y2="484.30" stroke="#c68ec6" stroke-width="1.2" />
<circle cx="363.70" cy="471.20" r="0.9" fill="#000"/>
<circle cx="363.70" cy="474.20" r="0.9" fill="#000"/>
<circle cx="359.70" cy="483.70" r="0.9" fill="#000"/>
<circle cx="362.40" cy="483.70" r="0.9" fill="#000"/>
<circle cx="364.50" cy="483.70" r="0.9" fill="#000"/>
<circle cx="367.60" cy="483.70" r="0.9" fill="#000"/>
<circle cx="362.00" cy="485.50" r="0.9" fill="#000"/>
<circle cx="364.00" cy="485.50" r="0.9" fill="#000"/>
<circle cx="363.70" cy="490.20" r="0.9" fill="#000"/>
<line x1="308.20" y1="457.60" x2="308.20" y2="598.75" stroke="#000" stroke-width="1.8" />
<line x1="302.20" y1="597.85" x2="388.40" y2="597.85" stroke="#000" stroke-width="1.8" />
<rect x="381.80" y="458.90" width="13.20" height="9.10" fill="none" stroke="#d2cf9a" stroke-width="2"/>
<rect x="381.80" y="482.50" width="13.20" height="9.10" fill="none" stroke="#c68ec6" stroke-width="2"/>
<text x="404.00" y="468.50" font-size="15.3" text-anchor="start" font-weight="bold" font-style="normal" fill="#000" >CON</text>
<text x="404.50" y="492.00" font-size="15.3" text-anchor="start" font-weight="bold" font-style="normal" fill="#000" >REC</text>
<text x="344.20" y="437.30" font-size="18" text-anchor="middle" font-weight="bold" font-style="normal" fill="#000" >Female fetus</text>
<text x="244.00" y="428.50" font-size="20.5" text-anchor="start" font-weight="bold" font-style="normal" fill="#000" >H</text>
<text x="0" y="0" font-size="15.5" text-anchor="middle" font-weight="bold" transform="translate(284.70,524.60) rotate(-90)">Fetal body weight, kg</text>
<text x="323.20" y="457.50" font-size="15.5" font-weight="bold"><tspan font-style="italic">P</tspan>=0.969</text>
<line x1="331.40" y1="461.90" x2="365.20" y2="461.90" stroke="#1a1a1a" stroke-width="1.6" />
<line x1="546.10" y1="453.00" x2="546.10" y2="594.90" stroke="#000" stroke-width="1.8" />
<line x1="540.10" y1="594.00" x2="626.30" y2="594.00" stroke="#000" stroke-width="1.8" />
<line x1="540.10" y1="594.00" x2="546.10" y2="594.00" stroke="#000" stroke-width="1.8" />
<text x="539.00" y="599.50" font-size="15.3" text-anchor="end" font-weight="bold" font-style="normal" fill="#000" >0</text>
<line x1="540.10" y1="547.30" x2="546.10" y2="547.30" stroke="#000" stroke-width="1.8" />
<text x="539.00" y="552.80" font-size="15.3" text-anchor="end" font-weight="bold" font-style="normal" fill="#000" >5</text>
<line x1="540.10" y1="500.60" x2="546.10" y2="500.60" stroke="#000" stroke-width="1.8" />
<text x="539.00" y="506.10" font-size="15.3" text-anchor="end" font-weight="bold" font-style="normal" fill="#000" >10</text>
<line x1="540.10" y1="453.90" x2="546.10" y2="453.90" stroke="#000" stroke-width="1.8" />
<text x="539.00" y="459.40" font-size="15.3" text-anchor="end" font-weight="bold" font-style="normal" fill="#000" >15</text>
<path d="M559.40,594.00 V507.20 H580.90 V594.00" fill="none" stroke="#d2cf9a" stroke-width="2.3"/>
<line x1="570.15" y1="594.00" x2="570.15" y2="600.00" stroke="#000" stroke-width="1.6" />
<line x1="570.15" y1="503.40" x2="570.15" y2="509.00" stroke="#d2cf9a" stroke-width="1.2" />
<line x1="564.35" y1="503.40" x2="575.95" y2="503.40" stroke="#d2cf9a" stroke-width="1.2" />
<line x1="564.35" y1="509.00" x2="575.95" y2="509.00" stroke="#d2cf9a" stroke-width="1.2" />
<circle cx="570.15" cy="496.00" r="0.9" fill="#000"/>
<circle cx="567.65" cy="501.00" r="0.9" fill="#000"/>
<circle cx="572.65" cy="501.00" r="0.9" fill="#000"/>
<circle cx="565.75" cy="503.60" r="0.9" fill="#000"/>
<circle cx="570.45" cy="503.60" r="0.9" fill="#000"/>
<circle cx="573.45" cy="503.60" r="0.9" fill="#000"/>
<circle cx="570.45" cy="505.70" r="0.9" fill="#000"/>
<circle cx="570.45" cy="509.70" r="0.9" fill="#000"/>
<circle cx="568.55" cy="514.30" r="0.9" fill="#000"/>
<circle cx="571.45" cy="513.60" r="0.9" fill="#000"/>
<path d="M590.70,594.00 V508.90 H612.50 V594.00" fill="none" stroke="#c68ec6" stroke-width="2.3"/>
<line x1="601.60" y1="594.00" x2="601.60" y2="600.00" stroke="#000" stroke-width="1.6" />
<line x1="601.60" y1="505.20" x2="601.60" y2="510.50" stroke="#c68ec6" stroke-width="1.2" />
<line x1="595.80" y1="505.20" x2="607.40" y2="505.20" stroke="#c68ec6" stroke-width="1.2" />
<line x1="595.80" y1="510.50" x2="607.40" y2="510.50" stroke="#c68ec6" stroke-width="1.2" />
<circle cx="601.70" cy="500.00" r="0.9" fill="#000"/>
<circle cx="600.20" cy="502.40" r="0.9" fill="#000"/>
<circle cx="603.00" cy="502.40" r="0.9" fill="#000"/>
<circle cx="601.70" cy="505.70" r="0.9" fill="#000"/>
<circle cx="601.70" cy="507.20" r="0.9" fill="#000"/>
<circle cx="600.00" cy="509.70" r="0.9" fill="#000"/>
<circle cx="603.00" cy="509.70" r="0.9" fill="#000"/>
<circle cx="601.70" cy="514.30" r="0.9" fill="#000"/>
<circle cx="601.70" cy="519.00" r="0.9" fill="#000"/>
<line x1="546.10" y1="453.00" x2="546.10" y2="594.90" stroke="#000" stroke-width="1.8" />
<line x1="540.10" y1="594.00" x2="626.30" y2="594.00" stroke="#000" stroke-width="1.8" />
<rect x="619.80" y="454.40" width="12.80" height="9.40" fill="none" stroke="#d2cf9a" stroke-width="2"/>
<rect x="619.80" y="478.10" width="12.80" height="9.40" fill="none" stroke="#c68ec6" stroke-width="2"/>
<text x="641.90" y="463.90" font-size="15.3" text-anchor="start" font-weight="bold" font-style="normal" fill="#000" >CON</text>
<text x="642.40" y="487.90" font-size="15.3" text-anchor="start" font-weight="bold" font-style="normal" fill="#000" >REC</text>
<text x="579.20" y="437.50" font-size="18" text-anchor="middle" font-weight="bold" font-style="normal" fill="#000" >Female fetus</text>
<text x="468.80" y="428.00" font-size="20.5" text-anchor="start" font-weight="bold" font-style="normal" fill="#000" >I</text>
<text x="0" y="0" font-size="15.5" text-anchor="middle" font-weight="bold" transform="translate(514.20,520.20) rotate(-90)">Fetal rumen weight, g</text>
<text x="559.40" y="478.20" font-size="15.5" font-weight="bold"><tspan font-style="italic">P</tspan>=0.440</text>
<line x1="569.70" y1="482.00" x2="602.60" y2="482.00" stroke="#1a1a1a" stroke-width="1.6" />
</g>
</svg>
</body></html>
